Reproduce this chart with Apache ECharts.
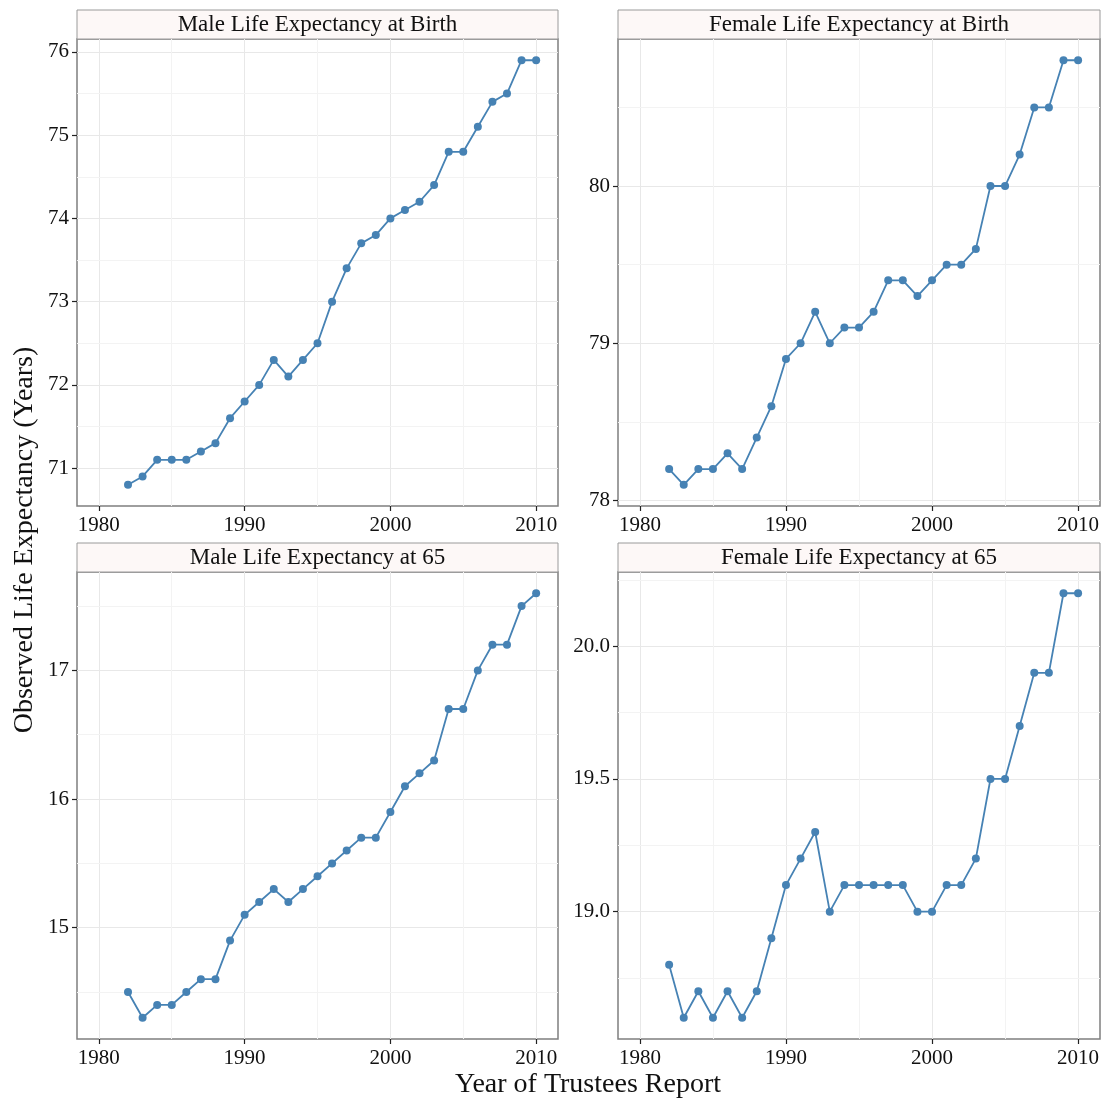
<!DOCTYPE html>
<html>
<head>
<meta charset="utf-8">
<title>Observed Life Expectancy</title>
<script src="https://cdn.jsdelivr.net/npm/echarts@6/dist/echarts.min.js"></script>
<style>
  html, body { margin: 0; padding: 0; background: #fff; }
  #chart { width: 1104px; height: 1102px; }
</style>
</head>
<body>
<div id="chart"></div>
<script>
// data
var years = [1982, 1983, 1984, 1985, 1986, 1987, 1988, 1989, 1990, 1991, 1992, 1993, 1994, 1995,
  1996, 1997, 1998, 1999, 2000, 2001, 2002, 2003, 2004, 2005, 2006, 2007, 2008, 2009, 2010];
var maleBirth = [70.8, 70.9, 71.1, 71.1, 71.1, 71.2, 71.3, 71.6, 71.8, 72.0, 72.3, 72.1, 72.3, 72.5,
  73.0, 73.4, 73.7, 73.8, 74.0, 74.1, 74.2, 74.4, 74.8, 74.8, 75.1, 75.4, 75.5, 75.9, 75.9];
var femaleBirth = [78.2, 78.1, 78.2, 78.2, 78.3, 78.2, 78.4, 78.6, 78.9, 79.0, 79.2, 79.0, 79.1, 79.1,
  79.2, 79.4, 79.4, 79.3, 79.4, 79.5, 79.5, 79.6, 80.0, 80.0, 80.2, 80.5, 80.5, 80.8, 80.8];
var male65 = [14.5, 14.3, 14.4, 14.4, 14.5, 14.6, 14.6, 14.9, 15.1, 15.2, 15.3, 15.2, 15.3, 15.4,
  15.5, 15.6, 15.7, 15.7, 15.9, 16.1, 16.2, 16.3, 16.7, 16.7, 17.0, 17.2, 17.2, 17.5, 17.6];
var female65 = [18.8, 18.6, 18.7, 18.6, 18.7, 18.6, 18.7, 18.9, 19.1, 19.2, 19.3, 19.0, 19.1, 19.1,
  19.1, 19.1, 19.1, 19.0, 19.0, 19.1, 19.1, 19.2, 19.5, 19.5, 19.7, 19.9, 19.9, 20.2, 20.2];

var panelTitles = ['Male Life Expectancy at Birth', 'Female Life Expectancy at Birth',
  'Male Life Expectancy at 65', 'Female Life Expectancy at 65'];

// tick labels / breaks
var xTicks = [1980, 1990, 2000, 2010];
var xMinor = [1985, 1995, 2005];
var maleBirthTicks = [71, 72, 73, 74, 75, 76];
var maleBirthMinor = [71.5, 72.5, 73.5, 74.5, 75.5];
var femaleBirthTicks = [78, 79, 80];
var femaleBirthMinor = [78.5, 79.5, 80.5];
var male65Ticks = [15, 16, 17];
var male65Minor = [14.5, 15.5, 16.5, 17.5];
var female65Ticks = [19.0, 19.5, 20.0];
var female65Minor = [18.75, 19.25, 19.75, 20.25];

var FONT = '"Liberation Serif", "DejaVu Serif", serif';
var LINE_COLOR = '#4682B4';

// ggplot-style 5% expansion of the data range
function expand (arr, mult) {
  var lo = Math.min.apply(null, arr), hi = Math.max.apply(null, arr)
  var pad = (hi - lo) * mult
  return [lo - pad, hi + pad]
}

var panels = [
  { values: maleBirth, ticks: maleBirthTicks, minor: maleBirthMinor, dec: 0 },
  { values: femaleBirth, ticks: femaleBirthTicks, minor: femaleBirthMinor, dec: 0 },
  { values: male65, ticks: male65Ticks, minor: male65Minor, dec: 0 },
  { values: female65, ticks: female65Ticks, minor: female65Minor, dec: 1 }
]

var boxes = [
  { left: 77, top: 39, width: 481, height: 467 },
  { left: 618, top: 39, width: 482, height: 467 },
  { left: 77, top: 572, width: 481, height: 467 },
  { left: 618, top: 572, width: 482, height: 467 }
]
var STRIP_H = 29

var grids = [], xAxes = [], yAxes = [], series = [], graphics = []

panels.forEach(function (p, i) {
  var b = boxes[i]
  var yr = expand(p.values, 0.05)
  grids.push({
    left: b.left, top: b.top, width: b.width, height: b.height,
    show: true, borderColor: '#7f7f7f', borderWidth: 1.5, backgroundColor: '#fff'
  })
  xAxes.push({
    type: 'value', gridIndex: i, min: 1978.5, max: 2011.5,
    axisLine: { show: false },
    axisTick: { show: true, length: 5, customValues: xTicks, lineStyle: { color: '#222', width: 1.2 } },
    axisLabel: {
      customValues: xTicks, color: '#111', fontFamily: FONT, fontSize: 21, margin: 9,
      formatter: function (v) { return String(v) }
    },
    splitLine: { show: true, lineStyle: { color: '#e8e8e8', width: 1 } }
  })
  yAxes.push({
    type: 'value', gridIndex: i, min: yr[0], max: yr[1],
    axisLine: { show: false },
    axisTick: { show: true, length: 5, customValues: p.ticks, lineStyle: { color: '#222', width: 1.2 } },
    axisLabel: {
      customValues: p.ticks, color: '#111', fontFamily: FONT, fontSize: 21, margin: 8,
      formatter: function (v) { return v.toFixed(p.dec) }
    },
    splitLine: { show: true, lineStyle: { color: '#e8e8e8', width: 1 } }
  })
  // minor grid lines, kept beneath the data
  var minorLines = xMinor.map(function (v) { return { xAxis: v } })
    .concat(p.minor.map(function (v) { return { yAxis: v } }))
  series.push({
    type: 'line', xAxisIndex: i, yAxisIndex: i, data: [], silent: true, z: 0,
    markLine: {
      z: 0, silent: true, symbol: 'none', animation: false, label: { show: false },
      lineStyle: { color: '#f3f3f3', width: 1, type: 'solid' },
      data: minorLines
    }
  })
  series.push({
    type: 'line', xAxisIndex: i, yAxisIndex: i, z: 3,
    data: years.map(function (y, k) { return [y, p.values[k]] }),
    symbol: 'circle', symbolSize: 8, showSymbol: true,
    itemStyle: { color: LINE_COLOR },
    lineStyle: { color: LINE_COLOR, width: 1.8 },
    animation: false
  })
  // facet strip
  graphics.push({
    type: 'rect', silent: true,
    shape: { x: b.left, y: b.top - STRIP_H, width: b.width, height: STRIP_H },
    style: { fill: '#fdf8f7', stroke: '#9a9a9a', lineWidth: 1 }
  })
  graphics.push({
    type: 'text', silent: true,
    x: b.left + b.width / 2, y: b.top - STRIP_H / 2,
    style: {
      text: panelTitles[i], fill: '#111', font: '23px ' + FONT,
      textAlign: 'center', textVerticalAlign: 'middle'
    }
  })
})

graphics.push({
  type: 'text', silent: true, x: 588, y: 1085,
  style: { text: 'Year of Trustees Report', fill: '#111', font: '28px ' + FONT,
    textAlign: 'center', textVerticalAlign: 'middle' }
})
graphics.push({
  type: 'text', silent: true, x: 25, y: 540, rotation: Math.PI / 2,
  style: { text: 'Observed Life Expectancy (Years)', fill: '#111', font: '28px ' + FONT,
    textAlign: 'center', textVerticalAlign: 'middle' }
})

var chart = echarts.init(document.getElementById('chart'), null, { renderer: 'canvas' })
chart.setOption({
  backgroundColor: '#fff',
  animation: false,
  grid: grids,
  xAxis: xAxes,
  yAxis: yAxes,
  series: series,
  graphic: graphics
})
window.addEventListener('resize', function () { chart.resize() })
</script>
</body>
</html>
